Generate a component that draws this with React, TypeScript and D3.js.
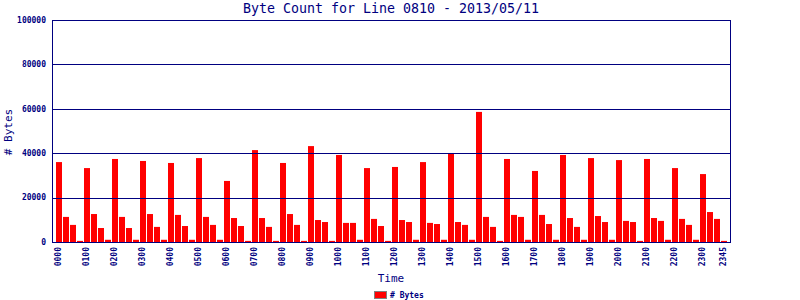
import React from "react";
import * as d3 from "d3";

const hours = d3.range(24).map((h) => String(h).padStart(2, "0"));
const quarters = ["00", "15", "30", "45"];
const q00 = [36000, 33300, 37400, 36500, 35600, 37800, 27500, 41400, 35600, 43200, 39200, 33300, 33800, 36000, 40100, 58600, 37400, 32000, 39200, 37800, 36900, 37400, 33300, 30600];
const q15 = [11300, 12600, 11300, 12600, 12200, 11300, 10800, 10800, 12600, 9900, 8600, 10400, 9900, 8600, 9000, 11300, 12200, 12200, 10800, 11700, 9500, 10800, 10400, 13500];
const q30 = [7700, 6300, 6300, 6800, 7200, 7700, 7200, 6800, 7700, 9000, 8600, 7200, 9000, 8100, 7700, 6800, 11300, 8100, 6800, 9000, 9000, 9500, 7700, 10400];
const q45 = [500, 1000, 1000, 1000, 1000, 1000, 500, 500, 500, 500, 1000, 500, 1000, 1000, 1000, 500, 1000, 1000, 1000, 1000, 500, 1000, 1000, 500];
const yTicks = [0, 20000, 40000, 60000, 80000, 100000];
const title = "Byte Count for Line 0810 - 2013/05/11";
const seriesName = "# Bytes";

const series = [q00, q15, q30, q45];
const slots = hours.flatMap((h, hi) =>
  quarters.map((q, qi) => ({ label: h + q, value: series[qi][hi] }))
);

const W = 800, H = 300;
const L = 52, R = 730, T = 20, B = 242;
const NAVY = "#000080";
const MONO = "'DejaVu Sans Mono', 'Liberation Mono', monospace";

export default function App() {
  const x = d3
    .scaleBand<string>()
    .domain(slots.map((s) => s.label))
    .range([L, R])
    .paddingInner(1 / 7)
    .paddingOuter(0.5);
  const y = d3.scaleLinear().domain([0, 100000]).range([B, T]);
  const labelled = slots.filter((s, i) => i % 4 === 0 || i === slots.length - 1);

  return (
    <svg
      width={W}
      height={H}
      style={{ position: "absolute", left: 0, top: 0, background: "#fff" }}
    >
      <rect x={0} y={0} width={W} height={H} fill="#fff" />
      {slots.map((s) => (
        <rect
          key={s.label}
          x={Math.round(x(s.label)!)}
          y={y(s.value)}
          width={Math.round(x.bandwidth())}
          height={B - y(s.value)}
          fill="#ff0000"
        />
      ))}
      {yTicks.map((t) => (
        <g key={t}>
          <line x1={L} x2={R} y1={Math.round(y(t)) + 0.5} y2={Math.round(y(t)) + 0.5} stroke={NAVY} strokeWidth={1} />
          <text
            x={46}
            y={y(t)}
            dy="0.35em"
            textAnchor="end"
            fontFamily={MONO}
            fontWeight="bold"
            fontSize={8}
            fill={NAVY}
          >
            {t}
          </text>
        </g>
      ))}
      <line x1={L + 0.5} x2={L + 0.5} y1={T} y2={B + 1} stroke={NAVY} />
      <line x1={R + 0.5} x2={R + 0.5} y1={T} y2={B + 1} stroke={NAVY} />
      {labelled.map((s) => {
        const cx = x(s.label)! + x.bandwidth() / 2;
        return (
          <text
            key={s.label}
            transform={`translate(${cx},247) rotate(-90)`}
            dy="0.35em"
            textAnchor="end"
            fontFamily={MONO}
            fontWeight="bold"
            fontSize={8}
            fill={NAVY}
          >
            {s.label}
          </text>
        );
      })}
      <text x={(L + R) / 2} y={13} textAnchor="middle" fontFamily={MONO} fontSize={13.3} fill={NAVY}>
        {title}
      </text>
      <text x={(L + R) / 2} y={282} textAnchor="middle" fontFamily={MONO} fontSize={11} fill={NAVY}>
        Time
      </text>
      <text
        transform={`translate(12,132) rotate(-90)`}
        textAnchor="middle"
        fontFamily={MONO}
        fontSize={11}
        fill={NAVY}
      >
        {seriesName}
      </text>
      <rect x={374.5} y={291.5} width={12} height={7} fill="#ff0000" stroke="#808080" strokeWidth={1} />
      <text x={390} y={295} dy="0.35em" fontFamily={MONO} fontWeight="bold" fontSize={8} fill={NAVY}>
        {seriesName}
      </text>
    </svg>
  );
}
